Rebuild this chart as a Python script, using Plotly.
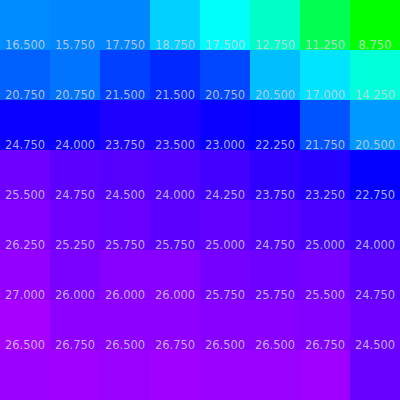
import plotly.graph_objects as go

columns = [0, 1, 2, 3, 4, 5, 6, 7]
rows = [0, 1, 2, 3, 4, 5, 6, 7]

values = [
    [14.75, 15.00, 15.00, 12.00, 10.00, 8.00, 3.25, 0.00],
    [16.50, 15.75, 17.75, 18.75, 17.50, 12.75, 11.25, 8.75],
    [20.75, 20.75, 21.50, 21.50, 20.75, 20.50, 17.00, 14.25],
    [24.75, 24.00, 23.75, 23.50, 23.00, 22.25, 21.75, 20.50],
    [25.50, 24.75, 24.50, 24.00, 24.25, 23.75, 23.25, 22.75],
    [26.25, 25.25, 25.75, 25.75, 25.00, 24.75, 25.00, 24.00],
    [27.00, 26.00, 26.00, 26.00, 25.75, 25.75, 25.50, 24.75],
    [26.50, 26.75, 26.50, 26.75, 26.50, 26.50, 26.75, 24.50],
]

# rows whose labels are visible in the chart
labelled_rows = [1, 2, 3, 4, 5, 6, 7]

colorscale = [
    [0.0, "rgb(0,255,0)"],
    [0.377, "rgb(0,255,255)"],
    [0.753, "rgb(0,0,255)"],
    [1.0, "rgb(166,0,255)"],
]

fig = go.Figure()
fig.add_trace(go.Heatmap(
    z=values, x=columns, y=rows,
    colorscale=colorscale, zmin=0, zmax=27,
    showscale=False, hoverinfo="skip",
))

tx, ty, tt = [], [], []
for r in labelled_rows:
    for c in columns:
        tx.append(c)
        ty.append(r - 0.58)
        tt.append(f"{values[r][c]:.3f}")

fig.add_trace(go.Scatter(
    x=tx, y=ty, text=tt, mode="text",
    textfont=dict(family="DejaVu Sans", size=11.5, color="rgba(210,208,228,0.85)"),
    hoverinfo="skip", cliponaxis=False, showlegend=False,
))

fig.update_xaxes(visible=False, range=[-0.5, 7.5], showgrid=False, zeroline=False)
fig.update_yaxes(visible=False, range=[7.5, -0.5], showgrid=False, zeroline=False)
fig.update_layout(
    width=400, height=400,
    margin=dict(l=0, r=0, t=0, b=0),
    paper_bgcolor="white", plot_bgcolor="white",
    showlegend=False,
)

fig.write_html("out.html", config={"displayModeBar": False},
               post_script="document.body.style.margin='0';")
